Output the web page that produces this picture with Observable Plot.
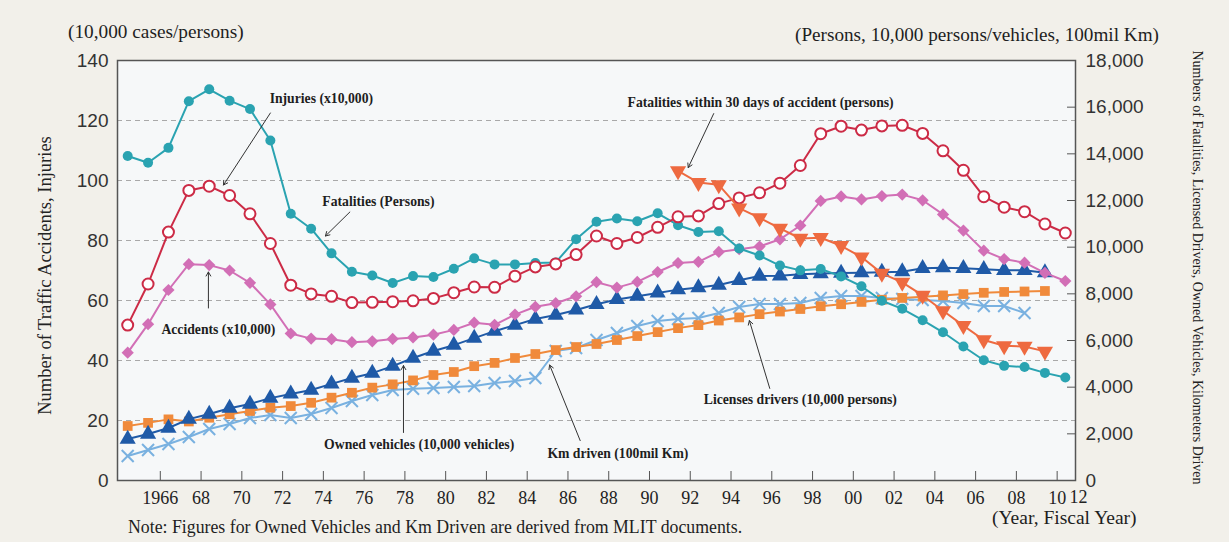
<!DOCTYPE html>
<html><head><meta charset="utf-8">
<script src="https://cdn.jsdelivr.net/npm/d3@7"></script>
<script src="https://cdn.jsdelivr.net/npm/@observablehq/plot@0.6"></script>
<style>
html,body{margin:0;padding:0;background:#f2f0ea;}
#wrap{position:relative;width:1229px;height:542px;overflow:hidden;font-family:"Liberation Serif","DejaVu Serif",serif;color:#1e1e1e;}
#wrap svg{position:absolute;left:0;top:0;}
.t{position:absolute;white-space:nowrap;line-height:1;}
#wrap g[aria-label="y-axis tick label"] text{font-family:"Liberation Sans",Arial,sans-serif;}
#wrap g[aria-label="x-axis tick label"] text{font-family:"Liberation Serif","DejaVu Serif",serif;}
</style></head><body>
<div id="wrap">
  <div id="chart"></div>
  <div class="t" style="left:68px;top:22px;font-size:19.3px">(10,000 cases/persons)</div>
  <div class="t" style="left:795px;top:25px;font-size:19.2px">(Persons, 10,000 persons/vehicles, 100mil Km)</div>
  <div class="t" style="left:992px;top:508px;font-size:19.5px">(Year, Fiscal Year)</div>
  <div class="t" style="left:128px;top:519px;font-size:17.8px">Note: Figures for Owned Vehicles and Km Driven are derived from MLIT documents.</div>
</div>
<script>
// ---- data (fiscal years) ----
const startYear = 1966;
// left axis series (x10,000)
const injuries = [51.8,65.5,82.8,96.7,98.1,95.0,88.9,79.0,65.1,62.2,61.4,59.3,59.4,59.6,59.9,60.7,62.6,64.5,64.4,68.1,71.2,72.2,75.3,81.5,79.0,81.0,84.4,87.9,88.2,92.3,94.2,95.9,99.1,105.0,115.6,118.1,116.8,118.2,118.4,115.7,109.9,103.4,94.6,91.1,89.6,85.5,82.5];
const accidents = [42.6,52.1,63.5,72.1,71.8,70.0,65.9,58.7,49.0,47.3,47.1,46.1,46.4,47.2,47.7,48.6,50.2,52.6,51.9,55.3,57.9,59.1,61.4,66.1,64.3,66.2,69.5,72.5,72.9,76.2,77.1,78.0,80.4,85.0,93.2,94.7,93.7,94.8,95.3,93.4,88.7,83.3,76.6,73.8,72.6,69.2,66.5];
// right axis series
const fatalities = [13904,13618,14256,16257,16765,16278,15918,14574,11432,10792,9734,8945,8783,8466,8760,8719,9073,9520,9262,9261,9317,9347,10344,11086,11227,11109,11452,10942,10649,10684,9942,9640,9211,9006,9066,8747,8326,7702,7358,6871,6352,5744,5155,4914,4863,4612,4411];
const fatal30Start = 1993;
const fatal30 = [13269,12768,12670,11674,11254,10805,10372,10403,10060,9575,8877,8492,7931,7272,6639,6023,5772,5745,5535];
const ownedVehicles = [1780,1990,2250,2630,2850,3100,3280,3530,3710,3880,4140,4390,4600,4900,5250,5550,5800,6100,6400,6660,6920,7090,7310,7550,7760,7900,8040,8180,8270,8380,8580,8760,8770,8836,8870,8890,8907,8930,8950,9093,9121,9093,9050,9007,9007,8907];
const licensedDrivers = [2336,2470,2620,2530,2690,2840,2980,3120,3190,3330,3550,3760,3980,4120,4290,4520,4650,4900,5040,5250,5420,5590,5720,5850,6020,6190,6360,6530,6660,6856,6990,7130,7240,7350,7468,7555,7653,7747,7825,7880,7933,7990,8045,8081,8101,8122];
const kmDriven = [1050,1307,1564,1864,2207,2421,2679,2807,2679,2850,3107,3407,3664,3879,3930,3964,4007,4050,4179,4264,4393,5550,5679,6021,6321,6621,6836,6921,6964,7179,7436,7564,7564,7607,7821,7907,7907,7821,7779,7736,7693,7607,7479,7479,7179];
// ticks
const leftTicks = [0,20,40,60,80,100,120,140];
const rightTicks = [0,2000,4000,6000,8000,10000,12000,14000,16000,18000];
const xTickYears = [1966,1968,1970,1972,1974,1976,1978,1980,1982,1984,1986,1988,1990,1992,1994,1996,1998,2000,2002,2004,2006,2008,2010];
const xTickLabels = ["1966","68","70","72","74","76","78","80","82","84","86","88","90","92","94","96","98","00","02","04","06","08","10"];
const lastXLabel = "12";
// annotations
const notes = [
  {label:"Injuries (x10,000)", tx:1975.5, ty:127.3, x1:1973.0, y1:122.5, x2:1970.7, y2:98.5},
  {label:"Fatalities (Persons)", tx:1978.3, ty:93, x1:1976.9, y1:89.5, x2:1975.7, y2:81.5},
  {label:"Fatalities within 30 days of accident (persons)", tx:1997.05, ty:126, x1:1994.75, y1:122.3, x2:1993.5, y2:104.3},
  {label:"Accidents (x10,000)", tx:1970.45, ty:50.3, x1:1969.96, y1:57.5, x2:1969.96, y2:69.5},
  {label:"Owned vehicles (10,000 vehicles)", tx:1980.3, ty:12, x1:1979.53, y1:16, x2:1979.53, y2:38.3},
  {label:"Km driven (100mil Km)", tx:1990.05, ty:9, x1:1988.2, y1:13.3, x2:1986.7, y2:38.5},
  {label:"Licenses drivers (10,000 persons)", tx:1999.0, ty:27, x1:1997.5, y1:30.7, x2:1996.5, y2:53.3}
];

// ---- build ----
const leftMax = 140, rightMax = 18000;
const toLeft = v => v * leftMax / rightMax;
const rows = (vals, start, right) => vals.map((v, i) => ({year: start + i, value: right ? toLeft(v) : v}));
const C = {inj:"#cc2b46", fat:"#2aa3b1", acc:"#d26fb6", f30:"#ee6a40", own:"#1f5aa7", lic:"#f08a3b", km:"#79b1e0"};
const tickShift = 1.6;
const serif = "Liberation Serif, DejaVu Serif, serif";

const dInj = rows(injuries, startYear, false);
const dAcc = rows(accidents, startYear, false);
const dFat = rows(fatalities, startYear, true);
const dF30 = rows(fatal30, fatal30Start, true);
const dOwn = rows(ownedVehicles, startYear, true);
const dLic = rows(licensedDrivers, startYear, true);
const dKm = rows(kmDriven, startYear, true);

const series = (data, color, dotOpts) => [
  Plot.line(data, {x:"year", y:"value", stroke:color, strokeWidth:2}),
  Plot.dot(data, {x:"year", y:"value", ...dotOpts})
];

const chart = Plot.plot({
  width:1229, height:542,
  marginLeft:117, marginRight:154, marginTop:60, marginBottom:62,
  style:{background:"transparent", overflow:"visible"},
  x:{domain:[1965.5, 2012.5]},
  y:{domain:[0, leftMax]},
  marks:[
    Plot.frame({fill:"#f6f8f9", stroke:null}),
    Plot.ruleY(leftTicks.filter(d => d > 0 && d < leftMax), {stroke:"#a9a9a9", strokeDasharray:"5,4", strokeWidth:1}),
    Plot.axisY(leftTicks, {anchor:"left", tickSize:0, tickPadding:9, fontSize:19, fill:"#333", label:null}),
    Plot.axisY(rightTicks.map(toLeft), {anchor:"right", tickSize:-9, tickPadding:19, stroke:"#555",
      tickFormat: d => d3.format(",")(Math.round(d * rightMax / leftMax)), fontSize:19, fill:"#333", label:null}),
    Plot.axisX(xTickYears.map(y => y + tickShift), {anchor:"bottom", tickSize:-9, tickPadding:20, stroke:"#555",
      tickFormat: d => xTickLabels[xTickYears.indexOf(Math.round(d - tickShift))], fontSize:18, fill:"#222", label:null}),
    Plot.text([lastXLabel], {x: 2012.65, frameAnchor:"bottom", lineAnchor:"middle", text:d => d, dy:17, fontSize:18, fontFamily:serif, fill:"#222"}),
    Plot.text(["Number of Traffic Accidents, Injuries"], {text:d => d, frameAnchor:"left", textAnchor:"middle", rotate:-90, dx:-72, dy:5, fontSize:18.5, fontFamily:serif, fill:"#222"}),
    Plot.text(["Numbers of Fatalities, Licensed Drivers, Owned Vehicles, Kilometers Driven"], {text:d => d, frameAnchor:"right", textAnchor:"middle", rotate:90, dx:122, dy:-3, fontSize:14, fontFamily:serif, fill:"#222"}),
    ...series(dKm, C.km, {symbol:"times", r:5.5, stroke:C.km, strokeWidth:2}),
    ...series(dLic, C.lic, {symbol:"square", r:5.5, fill:C.lic}),
    ...series(dOwn, C.own, {symbol:"triangle", r:6, fill:C.own}),
    ...series(dAcc, C.acc, {symbol:"diamond2", r:5.5, fill:C.acc}),
    ...series(dFat, C.fat, {symbol:"circle", r:5, fill:C.fat}),
    ...series(dInj, C.inj, {symbol:"circle", r:5.5, fill:"white", stroke:C.inj, strokeWidth:2}),
    ...series(dF30, C.f30, {symbol:"triangle", r:6, rotate:180, fill:C.f30}),
    Plot.arrow(notes, {x1:"x1", y1:"y1", x2:"x2", y2:"y2", stroke:"#333", strokeWidth:1, headLength:7}),
    Plot.text(notes, {x:"tx", y:"ty", text:"label", fontSize:13.7, fontWeight:"bold", fontFamily:serif, fill:"#1e1e1e"}),
    Plot.frame({stroke:"#555", strokeWidth:1.5})
  ]
});
document.getElementById("chart").appendChild(chart);
</script>
</body></html>
